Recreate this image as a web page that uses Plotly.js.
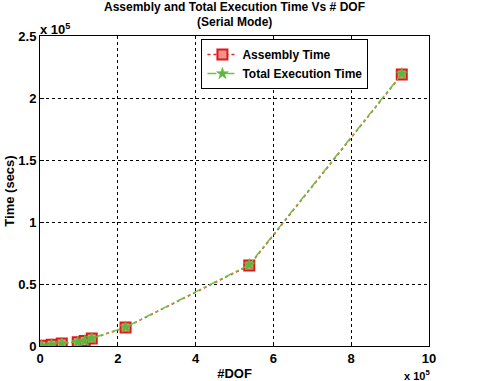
<!DOCTYPE html>
<html><head><meta charset="utf-8">
<script src="https://cdn.plot.ly/plotly-3.0.1.min.js"></script>
<style>body{margin:0;background:#fff}#c{width:478px;height:381px}</style>
</head><body><div id="c"></div>
<script>
const dof = [4000, 30000, 56000, 97000, 115000, 133000, 220000, 538000, 930000];
const assemblyTime = [200, 1000, 2000, 3000, 4000, 6000, 15000, 65000, 219000];
const totalTime = [250, 1100, 2100, 3100, 4200, 6200, 15200, 65500, 219500];
const xTickVals = [0, 200000, 400000, 600000, 800000, 1000000];
const xTickText = ["0", "2", "4", "6", "8", "10"];
const yTickVals = [0, 50000, 100000, 150000, 200000, 250000];
const yTickText = ["0", "0.5", "1", "1.5", "2", "2.5"];
const titleLines = ["Assembly and Total Execution Time Vs # DOF", "(Serial Mode)"];

const F = "Liberation Sans, Arial, sans-serif";
const traces = [
  {x: dof, y: assemblyTime, name: "Assembly Time", mode: "lines+markers",
   line: {color: "#e8262a", dash: "dot", width: 1.5},
   marker: {symbol: "square", size: 10, color: "#f09090", line: {color: "#e01818", width: 2}}},
  {x: dof, y: totalTime, name: "Total Execution Time", mode: "lines+markers",
   line: {color: "#72c142", dash: "dashdot", width: 1.5},
   marker: {symbol: "star", size: 9, color: "#5cb83a", line: {color: "#5cb83a", width: 0.5}}}
];
const layout = {
  width: 478, height: 381,
  margin: {l: 40, r: 49, t: 36, b: 35},
  paper_bgcolor: "#fff", plot_bgcolor: "#fff",
  font: {family: F, size: 12, color: "#000"},
  title: {text: ""},
  showlegend: true,
  legend: {x: 0.415, y: 0.99, xanchor: "left", yanchor: "top", bgcolor: "#fff",
    bordercolor: "#000", borderwidth: 1, font: {family: F, size: 12, color: "#000", weight: "bold"},
    tracegroupgap: 0, itemwidth: 30},
  xaxis: {range: [0, 1000000], tickvals: xTickVals, ticktext: xTickText,
    showgrid: true, gridcolor: "#000", griddash: "dot", gridwidth: 1,
    showline: true, linecolor: "#000", linewidth: 1, mirror: true, zeroline: false,
    ticks: "inside", ticklen: 4, tickcolor: "#000",
    tickfont: {family: F, size: 13, color: "#000", weight: "bold"},
    title: {text: "<b>#DOF</b>", font: {family: F, size: 13, color: "#000"}, standoff: 6}},
  yaxis: {range: [0, 250000], tickvals: yTickVals, ticktext: yTickText,
    showgrid: true, gridcolor: "#000", griddash: "dot", gridwidth: 1,
    showline: true, linecolor: "#000", linewidth: 1, mirror: true, zeroline: false,
    ticks: "inside", ticklen: 4, tickcolor: "#000",
    tickfont: {family: F, size: 13, color: "#000", weight: "bold"},
    title: {text: "<b>Time (secs)</b>", font: {family: F, size: 13, color: "#000"}, standoff: 0}},
  annotations: [
    {text: "<b>" + titleLines[0] + "</b>", xref: "paper", yref: "paper", x: 0.5, y: 1, xanchor: "center", yanchor: "middle",
     showarrow: false, font: {family: F, size: 12, color: "#000"}, yshift: 29},
    {text: "<b>" + titleLines[1] + "</b>", xref: "paper", yref: "paper", x: 0.5, y: 1, xanchor: "center", yanchor: "middle",
     showarrow: false, font: {family: F, size: 12, color: "#000"}, yshift: 14},
    {text: "<b>x 10<sup>5</sup></b>", xref: "paper", yref: "paper", x: 0.0, y: 1.0, xanchor: "left", yanchor: "bottom",
     showarrow: false, font: {family: F, size: 13, color: "#000"}, xshift: -2, yshift: -3},
    {text: "<b>x 10<sup>5</sup></b>", xref: "paper", yref: "paper", x: 1.0, y: 0, xanchor: "center", yanchor: "top",
     showarrow: false, font: {family: F, size: 11, color: "#000"}, yshift: -20, xshift: -12}
  ]
};
Plotly.newPlot("c", traces, layout, {displayModeBar: false, staticPlot: true});
</script></body></html>
